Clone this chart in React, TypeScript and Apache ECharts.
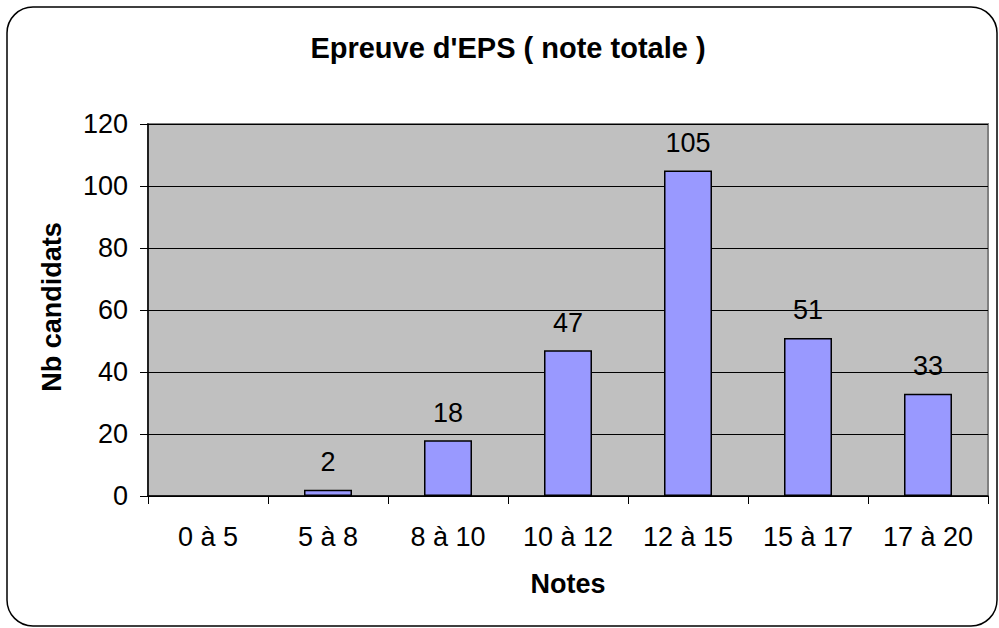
import React, { useEffect, useRef } from "react";
import * as echarts from "echarts";

const categories = ["0 à 5", "5 à 8", "8 à 10", "10 à 12", "12 à 15", "15 à 17", "17 à 20"];
const counts = [0, 2, 18, 47, 105, 51, 33];
const titleText = "Epreuve d'EPS ( note totale )";
const yName = "Nb candidats";
const xName = "Notes";

export default function App() {
  const ref = useRef<HTMLDivElement>(null);
  useEffect(() => {
    const chart = echarts.init(ref.current!, null, { renderer: "svg" });
    const font = "Liberation Sans, Arial, sans-serif";
    chart.setOption({
      animation: false,
      backgroundColor: "#ffffff",
      graphic: [
        {
          type: "rect",
          shape: { x: 7, y: 7, width: 990, height: 619, r: 26 },
          style: { fill: "none", stroke: "#000", lineWidth: 1.5 },
          z: -1,
        },
        {
          type: "text",
          x: 52,
          y: 307,
          rotation: Math.PI / 2,
          style: {
            text: yName,
            fontFamily: font,
            fontWeight: "bold",
            fontSize: 27,
            fill: "#000",
            textAlign: "center",
            textVerticalAlign: "middle",
          },
        },
        {
          type: "text",
          x: 568,
          y: 584,
          style: {
            text: xName,
            fontFamily: font,
            fontWeight: "bold",
            fontSize: 27,
            fill: "#000",
            textAlign: "center",
            textVerticalAlign: "middle",
          },
        },
      ],
      title: {
        text: titleText,
        left: 503,
        top: 28,
        textAlign: "center",
        textStyle: { fontFamily: font, fontWeight: "bold", fontSize: 29, color: "#000" },
      },
      grid: {
        left: 148,
        top: 124,
        right: 11,
        bottom: 132,
        show: true,
        backgroundColor: "#C0C0C0",
        borderColor: "#808080",
        borderWidth: 2,
      },
      xAxis: {
        type: "category",
        data: categories,
        boundaryGap: true,
        axisLine: { lineStyle: { color: "#000", width: 1.5 } },
        axisTick: { show: true, length: 8, lineStyle: { color: "#000" } },
        axisLabel: { fontFamily: font, fontSize: 27, color: "#000", margin: 27 },
      },
      yAxis: {
        type: "value",
        min: 0,
        max: 120,
        interval: 20,
        axisLine: { show: true, lineStyle: { color: "#000", width: 1.5 } },
        axisTick: { show: true, length: 8, lineStyle: { color: "#000" } },
        axisLabel: { fontFamily: font, fontSize: 27, color: "#000", margin: 20 },
        splitLine: { show: true, lineStyle: { color: "#000", width: 1 } },
      },
      series: [
        {
          type: "bar",
          data: counts.map((v) => ({
            value: v,
            itemStyle: v === 0 ? { borderWidth: 0, opacity: 0 } : undefined,
          })),
          barWidth: "40%",
          itemStyle: { color: "#9999FF", borderColor: "#000", borderWidth: 1.5 },
          label: {
            show: true,
            position: "top",
            distance: 14,
            fontFamily: font,
            fontSize: 27,
            color: "#000",
            formatter: (p: any) => (p.value === 0 ? "" : String(p.value)),
          },
        },
      ],
    });
    return () => chart.dispose();
  }, []);
  return (
    <div
      ref={ref}
      style={{ position: "absolute", left: 0, top: 0, width: 999, height: 628 }}
    />
  );
}
